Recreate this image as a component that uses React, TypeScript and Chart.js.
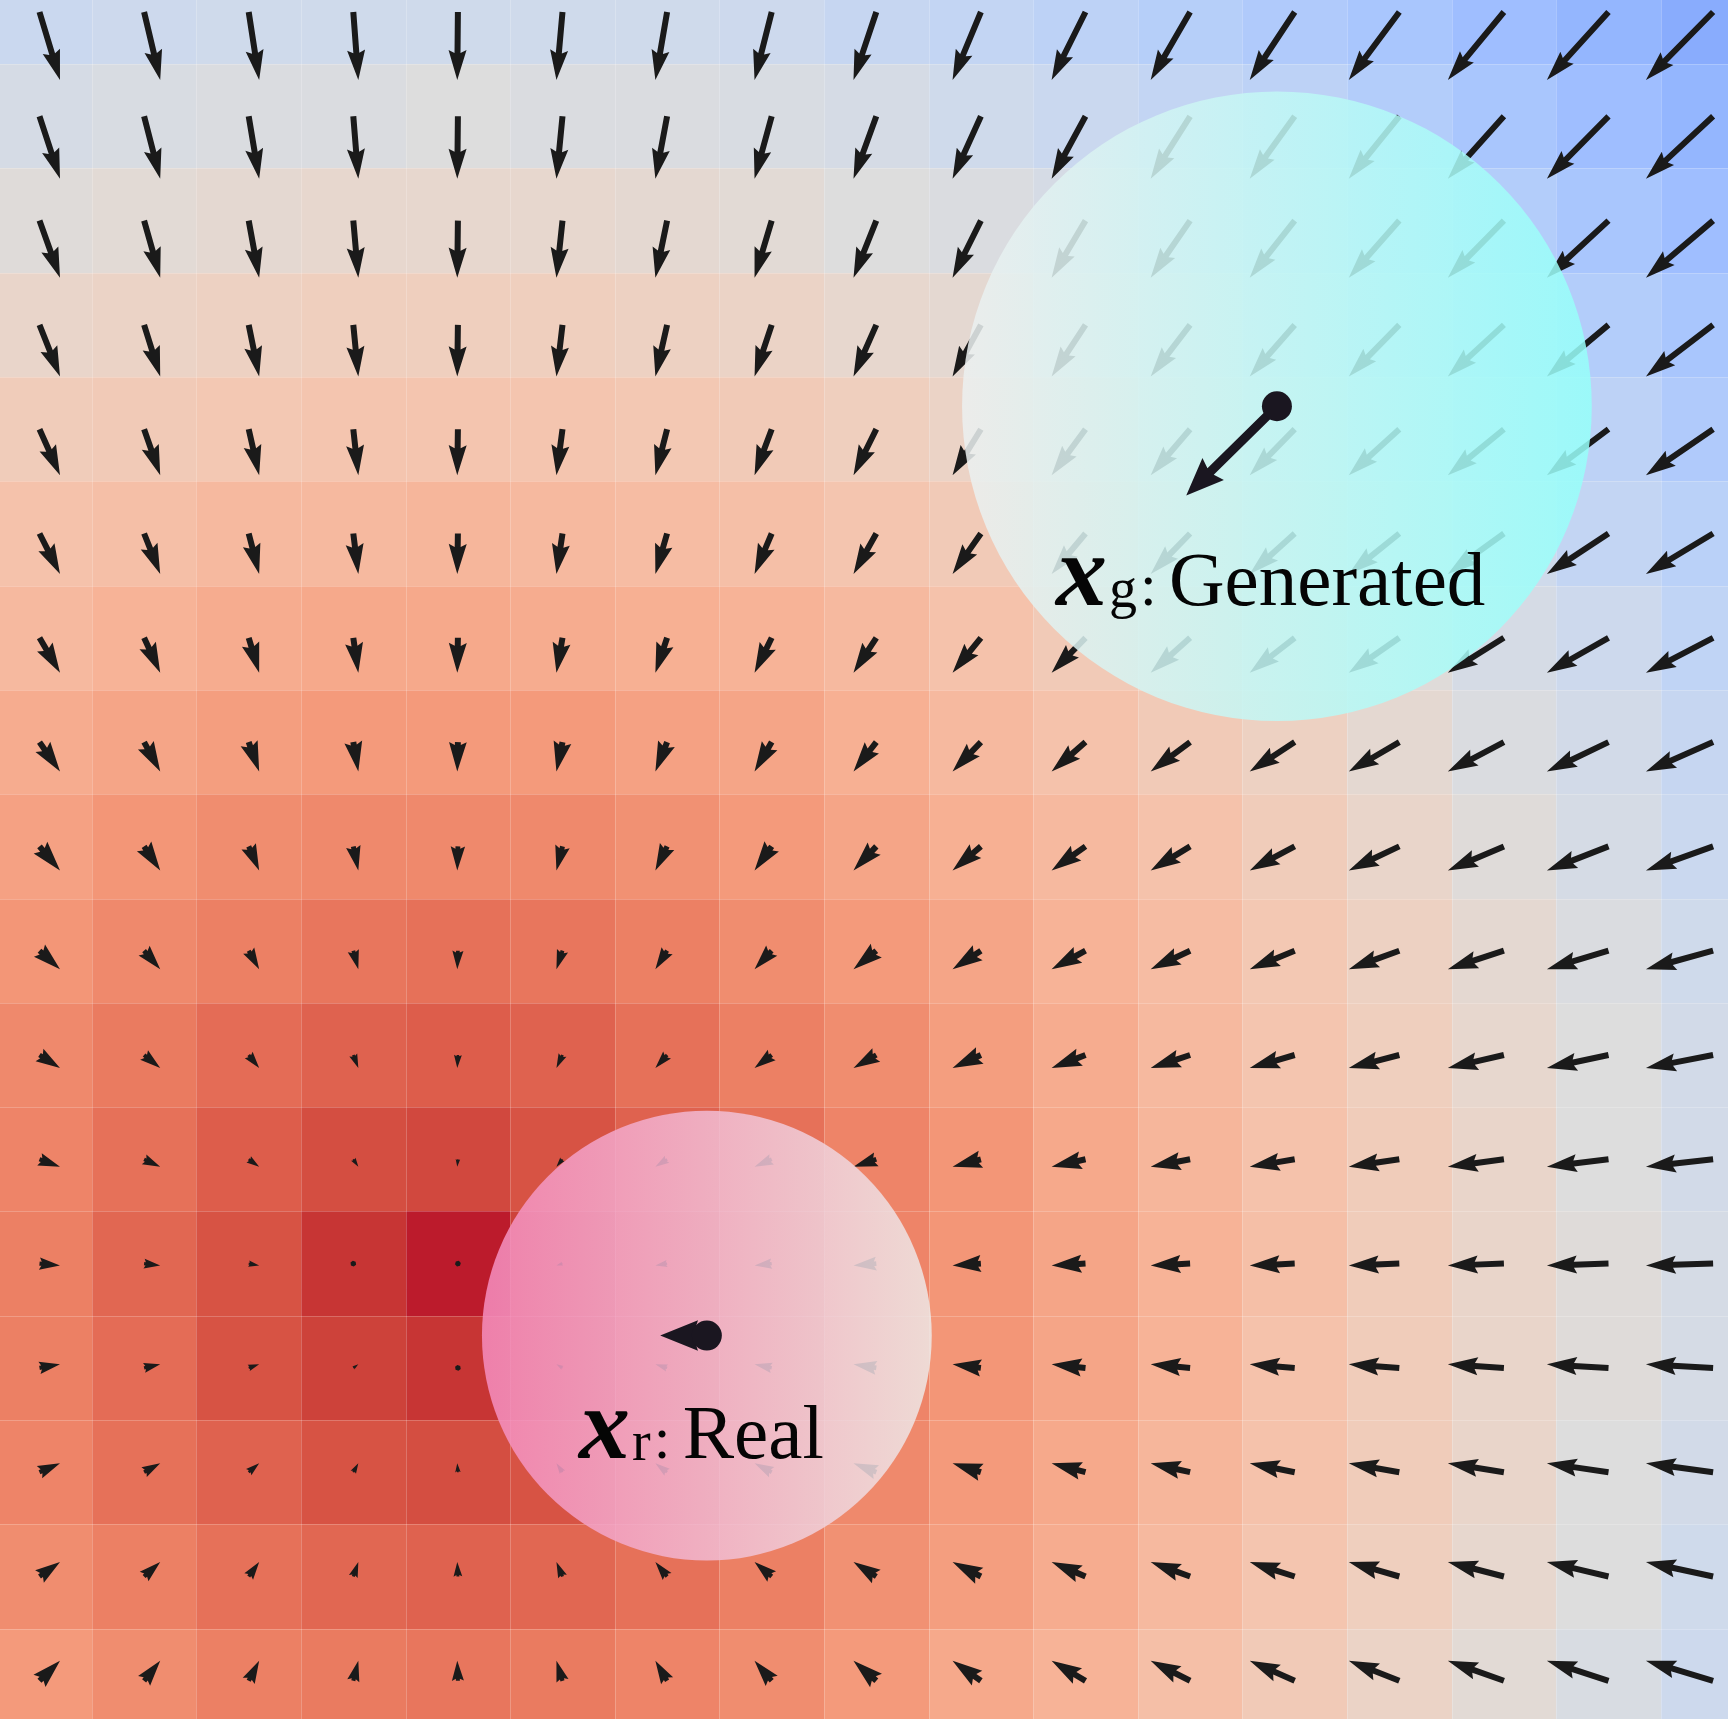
import React, { useEffect, useRef } from "react";
import { Chart, registerables } from "chart.js";

Chart.register(...registerables);

// ---- data ----
const GRID_X = [0, 1, 2, 3, 4, 5, 6, 7, 8, 9, 10, 11, 12, 13, 14, 15, 16];
const GRID_Y = [0, 1, 2, 3, 4, 5, 6, 7, 8, 9, 10, 11, 12, 13, 14, 15, 16];

// critic value per cell (row = GRID_Y, column = GRID_X), on the colormap scale 0..1
const HEAT_R0 = [0.43, 0.44, 0.45, 0.45, 0.45, 0.45, 0.45, 0.44, 0.42, 0.41, 0.39, 0.37, 0.35, 0.33, 0.30, 0.27, 0.24];
const HEAT_R1 = [0.47, 0.48, 0.49, 0.49, 0.50, 0.49, 0.49, 0.48, 0.47, 0.45, 0.43, 0.41, 0.39, 0.36, 0.33, 0.30, 0.27];
const HEAT_R2 = [0.51, 0.52, 0.53, 0.54, 0.54, 0.54, 0.53, 0.52, 0.50, 0.49, 0.47, 0.44, 0.42, 0.39, 0.36, 0.33, 0.30];
const HEAT_R3 = [0.55, 0.56, 0.57, 0.58, 0.58, 0.58, 0.57, 0.56, 0.54, 0.53, 0.50, 0.48, 0.45, 0.42, 0.39, 0.36, 0.33];
const HEAT_R4 = [0.59, 0.60, 0.61, 0.62, 0.62, 0.62, 0.61, 0.60, 0.58, 0.56, 0.54, 0.51, 0.48, 0.45, 0.42, 0.39, 0.35];
const HEAT_R5 = [0.63, 0.64, 0.66, 0.66, 0.67, 0.66, 0.65, 0.64, 0.62, 0.60, 0.57, 0.54, 0.51, 0.48, 0.45, 0.41, 0.38];
const HEAT_R6 = [0.66, 0.68, 0.70, 0.71, 0.71, 0.70, 0.69, 0.68, 0.66, 0.63, 0.60, 0.57, 0.54, 0.51, 0.47, 0.44, 0.40];
const HEAT_R7 = [0.70, 0.72, 0.74, 0.75, 0.75, 0.75, 0.73, 0.72, 0.69, 0.66, 0.63, 0.60, 0.57, 0.53, 0.49, 0.46, 0.42];
const HEAT_R8 = [0.73, 0.76, 0.78, 0.79, 0.79, 0.79, 0.77, 0.75, 0.72, 0.69, 0.66, 0.63, 0.59, 0.55, 0.51, 0.47, 0.43];
const HEAT_R9 = [0.76, 0.79, 0.81, 0.83, 0.84, 0.83, 0.81, 0.78, 0.75, 0.72, 0.68, 0.65, 0.61, 0.57, 0.53, 0.49, 0.45];
const HEAT_R10 = [0.79, 0.82, 0.85, 0.87, 0.88, 0.87, 0.84, 0.81, 0.78, 0.74, 0.70, 0.66, 0.62, 0.58, 0.54, 0.50, 0.46];
const HEAT_R11 = [0.80, 0.84, 0.88, 0.91, 0.92, 0.90, 0.87, 0.84, 0.80, 0.76, 0.71, 0.67, 0.63, 0.59, 0.55, 0.50, 0.46];
const HEAT_R12 = [0.81, 0.86, 0.90, 0.95, 0.98, 0.93, 0.89, 0.85, 0.80, 0.76, 0.72, 0.68, 0.64, 0.59, 0.55, 0.51, 0.47];
const HEAT_R13 = [0.81, 0.85, 0.90, 0.93, 0.95, 0.93, 0.89, 0.85, 0.80, 0.76, 0.72, 0.68, 0.63, 0.59, 0.55, 0.51, 0.47];
const HEAT_R14 = [0.80, 0.84, 0.87, 0.90, 0.91, 0.90, 0.87, 0.83, 0.79, 0.75, 0.71, 0.67, 0.63, 0.59, 0.55, 0.50, 0.46];
const HEAT_R15 = [0.78, 0.81, 0.84, 0.86, 0.87, 0.86, 0.84, 0.81, 0.77, 0.74, 0.70, 0.66, 0.62, 0.58, 0.54, 0.50, 0.45];
const HEAT_R16 = [0.75, 0.78, 0.81, 0.82, 0.83, 0.82, 0.80, 0.78, 0.75, 0.71, 0.68, 0.64, 0.60, 0.56, 0.52, 0.48, 0.44];
const HEAT = [
  HEAT_R0, HEAT_R1, HEAT_R2, HEAT_R3, HEAT_R4, HEAT_R5, HEAT_R6, HEAT_R7, HEAT_R8,
  HEAT_R9, HEAT_R10, HEAT_R11, HEAT_R12, HEAT_R13, HEAT_R14, HEAT_R15, HEAT_R16,
];

// gradient field: horizontal component per column, vertical (downward) per row, grid units
const FIELD_U = [0.196, 0.154, 0.100, 0.048, -0.006, -0.058, -0.112, -0.164, -0.218, -0.271, -0.324, -0.377, -0.430, -0.483, -0.536, -0.589, -0.642];
const FIELD_V = [0.652, 0.599, 0.547, 0.494, 0.441, 0.388, 0.336, 0.283, 0.230, 0.177, 0.125, 0.072, 0.019, -0.034, -0.086, -0.139, -0.192];

const GEN_POINT = { x: 11.83, y: 3.78 };
const GEN_STEP = { x: -0.867, y: 0.856 };
const GEN_RADIUS = 3.01;
const REAL_POINT = { x: 6.38, y: 12.69 };
const REAL_STEP = { x: -0.446, y: 0 };
const REAL_RADIUS = 2.15;

const GEN_LABEL = { sub: "g", text: "Generated" };
const REAL_LABEL = { sub: "r", text: "Real" };

// ---- layout / style ----
const W = 1728;
const H = 1719;
const X_MIN = -0.3776;
const X_MAX = 16.1424;
const Y_MIN = -0.1151;
const Y_MAX = 16.3663;
const GEN_LABEL_POS = { x: 9.718, y: 5.686 };
const REAL_LABEL_POS = { x: 5.158, y: 13.864 };

const COOLWARM: number[][] = [
  [0, 59, 76, 192],
  [0.0625, 77, 104, 215],
  [0.125, 98, 130, 234],
  [0.1875, 119, 154, 247],
  [0.25, 141, 176, 254],
  [0.3125, 163, 194, 255],
  [0.375, 184, 208, 249],
  [0.4375, 204, 217, 238],
  [0.5, 221, 221, 221],
  [0.5625, 236, 211, 197],
  [0.625, 245, 196, 173],
  [0.6875, 247, 177, 148],
  [0.75, 244, 154, 123],
  [0.8125, 236, 127, 99],
  [0.875, 222, 96, 77],
  [0.90625, 213, 80, 66],
  [0.9375, 203, 62, 56],
  [0.96875, 192, 40, 47],
  [1, 180, 4, 38],
];

function coolwarm(t: number): string {
  const v = Math.max(0, Math.min(1, t));
  for (let k = 1; k < COOLWARM.length; k++) {
    const a = COOLWARM[k - 1];
    const b = COOLWARM[k];
    if (v <= b[0]) {
      const f = (v - a[0]) / (b[0] - a[0]);
      const r = Math.round(a[1] + (b[1] - a[1]) * f);
      const g = Math.round(a[2] + (b[2] - a[2]) * f);
      const bl = Math.round(a[3] + (b[3] - a[3]) * f);
      return `rgb(${r},${g},${bl})`;
    }
  }
  return "rgb(180,4,38)";
}

function drawArrow(
  ctx: CanvasRenderingContext2D,
  x: number,
  y: number,
  dx: number,
  dy: number,
  w: number,
  hl: number,
  hal: number,
  hw: number,
  minsh: number,
  minlen: number
) {
  const len = Math.hypot(dx, dy) / w;
  const ang = Math.atan2(dy, dx);
  const c = Math.cos(ang);
  const s = Math.sin(ang);
  let pts: number[][];
  if (len < minlen) {
    pts = [];
    for (let k = 0; k < 6; k++) {
      const th = (k * Math.PI) / 3;
      pts.push([Math.cos(th) * minlen * 0.5, Math.sin(th) * minlen * 0.5]);
    }
  } else if (len < minsh) {
    const f = len / minsh;
    pts = [
      [0, 0.5], [minsh - hal, 0.5], [minsh - hl, hw / 2], [minsh, 0],
      [minsh - hl, -hw / 2], [minsh - hal, -0.5], [0, -0.5],
    ].map(([a, b]) => [a * f, b * f]);
  } else {
    pts = [
      [0, 0.5], [len - hal, 0.5], [len - hl, hw / 2], [len, 0],
      [len - hl, -hw / 2], [len - hal, -0.5], [0, -0.5],
    ];
  }
  ctx.beginPath();
  pts.forEach(([a, b], k) => {
    const px = x + (a * c - b * s) * w;
    const py = y + (a * s + b * c) * w;
    if (k === 0) ctx.moveTo(px, py);
    else ctx.lineTo(px, py);
  });
  ctx.closePath();
  ctx.fill();
}

function drawLabel(ctx: CanvasRenderingContext2D, px: number, py: number, sub: string, text: string) {
  ctx.fillStyle = "#050505";
  ctx.textAlign = "left";
  ctx.textBaseline = "alphabetic";
  ctx.font = "italic bold 102px 'Liberation Serif'";
  ctx.fillText("x", px, py);
  ctx.font = "56px 'Liberation Serif'";
  const subX = px + 53;
  ctx.fillText(sub, subX, py + 2);
  const colonX = subX + ctx.measureText(sub).width + 3;
  ctx.font = "60px 'Liberation Serif'";
  ctx.fillText(":", colonX, py);
  ctx.font = "77px 'Liberation Serif'";
  ctx.fillText(text, colonX + 29, py);
}

const fieldPlugin = {
  id: "fieldPlugin",
  beforeDatasetsDraw(chart: any) {
    const ctx: CanvasRenderingContext2D = chart.ctx;
    const xs = chart.scales.x;
    const ys = chart.scales.y;
    ctx.save();

    // heatmap cells
    GRID_Y.forEach((gy, j) => {
      GRID_X.forEach((gx, i) => {
        const x0 = Math.round(xs.getPixelForValue(gx - 0.5));
        const x1 = Math.round(xs.getPixelForValue(gx + 0.5));
        const ya = Math.round(ys.getPixelForValue(gy - 0.5));
        const yb = Math.round(ys.getPixelForValue(gy + 0.5));
        ctx.fillStyle = coolwarm(HEAT[j][i]);
        ctx.fillRect(x0, Math.min(ya, yb), x1 - x0, Math.abs(yb - ya));
      });
    });

    // faint cell edges
    ctx.strokeStyle = "rgba(255,255,255,0.22)";
    ctx.lineWidth = 1;
    ctx.beginPath();
    GRID_X.forEach((gx) => {
      const px = Math.round(xs.getPixelForValue(gx + 0.5)) + 0.5;
      ctx.moveTo(px, 0);
      ctx.lineTo(px, H);
    });
    GRID_Y.forEach((gy) => {
      const py = Math.round(ys.getPixelForValue(gy + 0.5)) + 0.5;
      ctx.moveTo(0, py);
      ctx.lineTo(W, py);
    });
    ctx.stroke();

    // quiver
    ctx.fillStyle = "#1a1a1a";
    GRID_Y.forEach((gy, j) => {
      GRID_X.forEach((gx, i) => {
        const px = xs.getPixelForValue(gx);
        const py = ys.getPixelForValue(gy);
        const dx = xs.getPixelForValue(gx + FIELD_U[i]) - px;
        const dy = ys.getPixelForValue(gy + FIELD_V[j]) - py;
        drawArrow(ctx, px, py, dx, dy, 6, 5, 4.5, 3, 5, 1);
      });
    });

    // translucent circles
    const circle = (pt: { x: number; y: number }, r: number, left: string, right: string) => {
      const cx = xs.getPixelForValue(pt.x);
      const cy = ys.getPixelForValue(pt.y);
      const R = Math.abs(xs.getPixelForValue(pt.x + r) - cx);
      const grad = ctx.createLinearGradient(cx - R, 0, cx + R, 0);
      grad.addColorStop(0, left);
      grad.addColorStop(1, right);
      ctx.fillStyle = grad;
      ctx.beginPath();
      ctx.arc(cx, cy, R, 0, Math.PI * 2);
      ctx.fill();
    };
    circle(GEN_POINT, GEN_RADIUS, "rgba(236,240,240,0.86)", "rgba(150,255,250,0.86)");
    circle(REAL_POINT, REAL_RADIUS, "rgba(245,140,190,0.86)", "rgba(238,232,230,0.86)");

    // big arrows
    ctx.fillStyle = "#1a1620";
    const big = (pt: { x: number; y: number }, st: { x: number; y: number }) => {
      const px = xs.getPixelForValue(pt.x);
      const py = ys.getPixelForValue(pt.y);
      const dx = xs.getPixelForValue(pt.x + st.x) - px;
      const dy = ys.getPixelForValue(pt.y + st.y) - py;
      drawArrow(ctx, px, py, dx, dy, 9, 4.2, 3.8, 3.4, 4.2, 1);
    };
    big(GEN_POINT, GEN_STEP);
    big(REAL_POINT, REAL_STEP);
    ctx.restore();
  },
  afterDatasetsDraw(chart: any) {
    const ctx: CanvasRenderingContext2D = chart.ctx;
    const xs = chart.scales.x;
    const ys = chart.scales.y;
    ctx.save();
    drawLabel(ctx, xs.getPixelForValue(GEN_LABEL_POS.x), ys.getPixelForValue(GEN_LABEL_POS.y), GEN_LABEL.sub, GEN_LABEL.text);
    drawLabel(ctx, xs.getPixelForValue(REAL_LABEL_POS.x), ys.getPixelForValue(REAL_LABEL_POS.y), REAL_LABEL.sub, REAL_LABEL.text);
    ctx.restore();
  },
};

export default function App() {
  const ref = useRef<HTMLCanvasElement | null>(null);
  useEffect(() => {
    document.body.style.margin = "0";
    const canvas = ref.current;
    if (!canvas) return;
    const tails: { x: number; y: number }[] = [];
    GRID_Y.forEach((gy) => GRID_X.forEach((gx) => tails.push({ x: gx, y: gy })));
    const chart = new Chart(canvas, {
      type: "scatter",
      data: {
        datasets: [
          { data: tails, pointRadius: 0, pointHoverRadius: 0 },
          {
            data: [GEN_POINT, REAL_POINT],
            pointRadius: 15,
            pointHoverRadius: 15,
            backgroundColor: "#1a1620",
            borderWidth: 0,
          },
        ],
      },
      options: {
        responsive: false,
        maintainAspectRatio: false,
        devicePixelRatio: 1,
        animation: false,
        events: [],
        layout: { padding: 0, autoPadding: false },
        plugins: { legend: { display: false }, tooltip: { enabled: false } },
        scales: {
          x: { type: "linear", min: X_MIN, max: X_MAX, display: false },
          y: { type: "linear", min: Y_MIN, max: Y_MAX, reverse: true, display: false },
        },
      },
      plugins: [fieldPlugin],
    } as any);
    return () => chart.destroy();
  }, []);
  return <canvas ref={ref} width={W} height={H} style={{ display: "block" }} />;
}
